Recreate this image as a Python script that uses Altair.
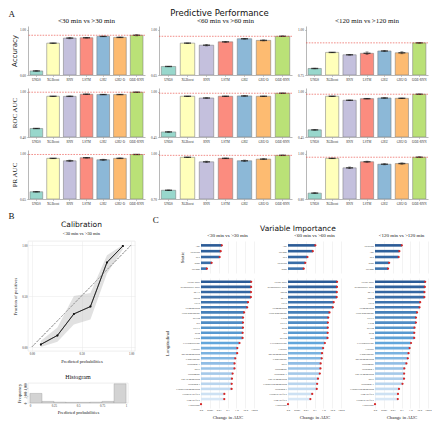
import altair as alt
import pandas as pd
import numpy as np

SERIF = "Liberation Serif"
SANS = "DejaVu Sans"

# ---------------- Panel A data ----------------
models = ["UNOS", "XGBoost", "RNN", "LSTM", "GRU", "GRU-D", "ODE-RNN"]
model_colors = ["#8dd3c7", "#ffffb3", "#bebada", "#fb8072", "#80b1d3", "#fdb462", "#b3de69"]
windows = ["<30 min vs >30 min", "<60 min vs >60 min", "<120 min vs >120 min"]
metrics = ["Accuracy", "ROC AUC", "PR AUC"]

acc_30 = [0.636, 0.882, 0.927, 0.930, 0.942, 0.933, 0.952]
acc_60 = [0.716, 0.897, 0.881, 0.907, 0.931, 0.918, 0.950]
acc_120 = [0.786, 0.875, 0.862, 0.870, 0.883, 0.873, 0.928]
roc_30 = [0.513, 0.941, 0.940, 0.968, 0.964, 0.964, 0.995]
roc_60 = [0.512, 0.946, 0.925, 0.946, 0.950, 0.946, 0.983]
roc_120 = [0.537, 0.946, 0.897, 0.917, 0.925, 0.921, 0.971]
pr_30 = [0.706, 0.965, 0.946, 0.970, 0.954, 0.965, 0.995]
pr_60 = [0.758, 0.977, 0.947, 0.970, 0.954, 0.965, 0.990]
pr_120 = [0.826, 0.980, 0.938, 0.965, 0.954, 0.957, 0.985]

acc_30_sd = [0.002, 0.001, 0.007, 0.003, 0.002, 0.003, 0.006]
acc_60_sd = [0.002, 0.001, 0.006, 0.004, 0.003, 0.004, 0.003]
acc_120_sd = [0.002, 0.001, 0.002, 0.008, 0.004, 0.006, 0.002]
roc_30_sd = [0.003, 0.001, 0.005, 0.003, 0.003, 0.003, 0.002]
roc_60_sd = [0.004, 0.001, 0.003, 0.002, 0.003, 0.002, 0.002]
roc_120_sd = [0.004, 0.001, 0.003, 0.003, 0.003, 0.003, 0.003]
pr_30_sd = [0.002, 0.001, 0.006, 0.003, 0.005, 0.003, 0.002]
pr_60_sd = [0.002, 0.001, 0.005, 0.002, 0.005, 0.003, 0.002]
pr_120_sd = [0.002, 0.001, 0.004, 0.003, 0.003, 0.003, 0.002]

acc_lows = [0.60, 0.65, 0.75]
roc_lows = [0.40, 0.45, 0.45]
pr_lows = [0.65, 0.70, 0.80]

# ---------------- Panel B data ----------------
cal_pred = [0.09, 0.257, 0.423, 0.59, 0.757, 0.917]
cal_frac = [0.025, 0.113, 0.324, 0.396, 0.83, 0.99]
cal_lo = [0.0, 0.05, 0.22, 0.27, 0.72, 0.96]
cal_hi = [0.06, 0.19, 0.50, 0.53, 0.90, 1.0]

hist_start = [0.0, 0.125, 0.25, 0.375, 0.5, 0.625, 0.75, 0.875]
hist_end = [0.125, 0.25, 0.375, 0.5, 0.625, 0.75, 0.875, 1.0]
hist_count = [2300, 380, 200, 160, 160, 200, 380, 4600]

# ---------------- Panel C data ----------------
c30_static = ["Age", "Dialysis", "Sex", "BMI", "Weight"]
c30_static_val = [0.023, 0.017, 0.013, 0.0016, 0.00047]
c30_long = ["Heart Rate", "Respiratory Rate", "MAP", "SpO2", "GCS", "Hemoglobin",
            "Norepinephrine", "pCO2", "pH", "PEEP", "pO2", "FiO2", "Levothyroxine",
            "Lactate", "Methemoglobin", "Epinephrine", "Troponin T", "BNP", "Dopamine",
            "O2 Hemoglobin", "Troponin I", "Carboxyhemoglobin", "Corneal Reflex",
            "Gag Reflex", "Lidocaine"]
c30_long_val = [48, 47, 46, 45, 21, 17, 7.6, 5.8, 5.7, 5.6, 5.2, 5.1, 2.3, 1.3, 1.25,
                0.76, 0.63, 0.62, 0.38, 0.32, 0.30, 0.29, 0.044, 0.043, 0.0001]

c60_static = ["Age", "Weight", "Sex", "Dialysis", "BMI"]
c60_static_val = [0.125, 0.064, 0.016, 0.009, 0.006]
c60_long = ["Heart Rate", "Respiratory Rate", "SpO2", "MAP", "GCS", "Hemoglobin",
            "Norepinephrine", "FiO2", "PEEP", "pO2", "pH", "pCO2", "Levothyroxine",
            "Lactate", "Methemoglobin", "Epinephrine", "BNP", "Dopamine", "Troponin T",
            "O2 Hemoglobin", "Carboxyhemoglobin", "Troponin I", "Corneal Reflex",
            "Gag Reflex", "Lidocaine"]
c60_long_val = [36, 35, 34, 33, 15, 12, 5.0, 3.6, 3.3, 3.2, 3.15, 3.0, 1.5, 0.95, 0.72,
                0.66, 0.5, 0.47, 0.4, 0.25, 0.2, 0.18, 0.055, 0.034, 0.0001]

c120_static = ["Dialysis", "Age", "Sex", "BMI", "Weight"]
c120_static_val = [0.11, 0.057, 0.048, 0.004, 0.003]
c120_long = ["Heart Rate", "Respiratory Rate", "MAP", "SpO2", "GCS", "Hemoglobin",
             "Norepinephrine", "PEEP", "FiO2", "pCO2", "pO2", "pH", "Levothyroxine",
             "Lactate", "Epinephrine", "Methemoglobin", "Dopamine", "Troponin I",
             "O2 Hemoglobin", "BNP", "Troponin T", "Carboxyhemoglobin", "Gag Reflex",
             "Corneal Reflex", "Lidocaine"]
c120_long_val = [48, 44, 40, 39, 13, 11, 5.8, 4.4, 4.3, 3.0, 2.8, 2.75, 1.2, 0.83, 0.63,
                 0.52, 0.36, 0.21, 0.20, 0.195, 0.13, 0.052, 0.040, 0.038, 0.0001]


# ---------------- helpers ----------------
def perf_panel(vals, sds, lo, width, ytitle=None, ctitle=None):
    df = pd.DataFrame({"model": models, "value": vals, "sd": sds})
    top = 1 + (1 - lo) * 0.085
    ticks = [float(t) for t in np.linspace(lo, 1.0, 5)]
    base = alt.Chart(df).transform_calculate(
        lo_e="datum.value - datum.sd", hi_e="datum.value + datum.sd")
    x = alt.X("model:N", sort=models,
              scale=alt.Scale(paddingInner=0.24, paddingOuter=0.12),
              axis=alt.Axis(title=None, labelAngle=0, labelFont=SERIF, labelFontSize=3.2,
                            labelPadding=1, tickSize=1.5, tickWidth=0.4, tickColor="#777",
                            domainColor="#888", domainWidth=0.6, labelColor="#333"))
    yscale = alt.Scale(domain=[lo, top], zero=False, nice=False)
    yaxis = alt.Axis(values=ticks, format=".2f", title=ytitle,
                     titleFont=SERIF if ytitle != "Accuracy" else SANS,
                     titleFontSize=7, titleFontWeight="normal", titlePadding=2, titleColor="#222",
                     labelFont=SERIF, labelFontSize=3.4, labelPadding=1, labelColor="#333",
                     tickSize=1.5, tickWidth=0.4, tickColor="#777", domainColor="#888",
                     domainWidth=0.6, grid=False)
    bars = base.mark_bar(stroke="#666", strokeWidth=0.5, clip=True, opacity=0.9).encode(
        x=x,
        y=alt.Y("value:Q", scale=yscale, axis=yaxis),
        y2=alt.datum(lo),
        color=alt.Color("model:N", scale=alt.Scale(domain=models, range=model_colors), legend=None))
    best_df = pd.DataFrame({"best": [max(vals)]})
    rule = alt.Chart(best_df).mark_rule(color="#e8433a", strokeDash=[1.6, 1.2],
                                        strokeWidth=0.6).encode(y=alt.Y("best:Q"))
    err = base.mark_rule(color="#222", strokeWidth=0.5).encode(
        x=x, y=alt.Y("lo_e:Q"), y2="hi_e:Q")
    cap = base.mark_tick(color="#222", size=3, thickness=0.5).encode(
        x=x, y=alt.Y("hi_e:Q"))
    cap2 = base.mark_tick(color="#222", size=3, thickness=0.5).encode(
        x=x, y=alt.Y("lo_e:Q"))
    dots = base.mark_tick(color="#111", size=7, thickness=1.4).encode(
        x=x, y=alt.Y("value:Q"))
    props = dict(width=width, height=49)
    if ctitle:
        props["title"] = alt.TitleParams(ctitle, font=SERIF, fontSize=7, fontWeight="normal",
                                         offset=2, color="#111")
    return alt.layer(bars, err, cap, cap2, dots, rule).properties(**props)


TICKS_LOG = [0.0001, 0.001, 0.01, 0.1, 1, 10, 100]
LABEL_EXPR = ("datum.value < 0.0005 ? '0.0' : datum.value < 0.005 ? '0.001' : "
              "datum.value < 0.05 ? '0.01' : format(datum.value, '.1f')")


def vi_chart(names, vals, part, height, ctitle=None, show_ytitle=False, show_x=False, width=53):
    df = pd.DataFrame({"var": names, "val": vals})
    n = len(names)
    base = alt.Chart(df).transform_window(
        rk="row_number()", sort=[alt.SortField("val", order="descending")])
    xscale = alt.Scale(type="log", domain=[0.0001, 100])
    if show_x:
        xaxis = alt.Axis(values=TICKS_LOG, labelExpr=LABEL_EXPR, title="Change in AUC",
                         titleFont=SERIF, titleFontSize=4.8, titleFontWeight="normal",
                         titlePadding=3, labelFont=SERIF, labelFontSize=2.8, labelPadding=1,
                         labelColor="#333", labelFlush=False, ticks=False, domain=False,
                         grid=True, gridColor="#e6e6e6", gridWidth=0.5, titleColor="#222")
    else:
        xaxis = alt.Axis(values=TICKS_LOG, labels=False, ticks=False, domain=False, title=None,
                         grid=True, gridColor="#e6e6e6", gridWidth=0.5)
    y = alt.Y("var:N", sort=names, scale=alt.Scale(paddingInner=0.3, paddingOuter=0.4),
              axis=alt.Axis(title=part if show_ytitle else None, titleFont=SERIF,
                            titleFontSize=5, titleFontWeight="normal", titlePadding=6,
                            titleColor="#222",
                            labelFont=SERIF, labelFontSize=2.9, labelPadding=1.5,
                            labelColor="#333", ticks=False, domain=False, grid=False))
    bars = base.mark_bar(size=2.6).encode(
        x=alt.X("val:Q", scale=xscale, axis=xaxis),
        x2=alt.datum(0.0001),
        y=y,
        color=alt.Color("rk:Q", scale=alt.Scale(domain=[1, (n + 1) / 2, n],
                                                range=["#2b5b96", "#62a6db", "#e1edf8"]),
                        legend=None))
    dots = base.mark_circle(color="#d62626", size=5, opacity=1).encode(
        x=alt.X("val:Q"), y=alt.Y("var:N", sort=names))
    props = dict(width=width, height=height)
    if ctitle:
        props["title"] = alt.TitleParams(ctitle, font=SERIF, fontSize=5, fontWeight="normal",
                                         offset=3, color="#111")
    return alt.layer(bars, dots).properties(**props)


# ---------------- Panel A ----------------
vals_grid = [[acc_30, acc_60, acc_120], [roc_30, roc_60, roc_120], [pr_30, pr_60, pr_120]]
sd_grid = [[acc_30_sd, acc_60_sd, acc_120_sd], [roc_30_sd, roc_60_sd, roc_120_sd],
           [pr_30_sd, pr_60_sd, pr_120_sd]]
lows = [acc_lows, roc_lows, pr_lows]
col_widths = [117, 133, 122]

columns = []
for c in range(3):
    panels = []
    for r in range(3):
        panels.append(perf_panel(vals_grid[r][c], sd_grid[r][c], lows[r][c], col_widths[c],
                                 ytitle=metrics[r] if c == 0 else None,
                                 ctitle=windows[c] if r == 0 else None))
    columns.append(alt.vconcat(*panels, spacing=7))

top = alt.hconcat(*columns, spacing=4).properties(
    title=alt.TitleParams("Predictive Performance", font=SANS, fontSize=8.5,
                          fontWeight="normal", anchor="middle", offset=0, color="#111"))

# ---------------- Panel B ----------------
cal_df = pd.DataFrame({"p": cal_pred, "f": cal_frac, "lo": cal_lo, "hi": cal_hi})
ax_common = dict(labelFont=SERIF, labelFontSize=3, labelPadding=1, labelColor="#333",
                 titleFont=SERIF, titleFontSize=4.6, titleFontWeight="normal", titleColor="#222",
                 ticks=False, domain=False, grid=True, gridColor="#e8e8e8", gridWidth=0.5)
cx = alt.X("p:Q", scale=alt.Scale(domain=[-0.04, 1.04], nice=False),
           axis=alt.Axis(values=[0, 0.25, 0.5, 0.75, 1.0], format=".2f",
                         title="Predicted probabilities", titlePadding=3, **ax_common))
cy = alt.Y("f:Q", scale=alt.Scale(domain=[-0.04, 1.04], nice=False),
           axis=alt.Axis(values=[0, 0.25, 0.5, 0.75, 1.0], format=".2f",
                         title="Fraction of positives", titlePadding=4, **ax_common))
band = alt.Chart(cal_df).mark_area(color="#bdbdbd", opacity=0.45).encode(
    x=cx, y=alt.Y("lo:Q"), y2="hi:Q")
diag = alt.Chart(cal_df).mark_rule(
    color="#aaa", strokeDash=[2, 1.5], strokeWidth=0.5).encode(
    x=alt.datum(0), y=alt.datum(0), x2=alt.datum(1), y2=alt.datum(1))
line = alt.Chart(cal_df).mark_line(color="#111", strokeWidth=0.8,
                                   point=alt.OverlayMarkDef(color="#111", size=4, filled=True)).encode(
    x=cx, y=cy)
calib = alt.layer(line, band, diag, line).properties(
    width=107, height=110,
    view=alt.ViewBackground(stroke="#e0e0e0", strokeWidth=0.6),
    title=alt.TitleParams("Calibration", subtitle="<30 min vs >30 min", font=SANS,
                          fontSize=7.5, fontWeight="normal", subtitleFont=SERIF,
                          subtitleFontSize=4.6, subtitlePadding=3, offset=5, color="#111",
                          subtitleColor="#111"))

hist_df = pd.DataFrame({"s": hist_start, "e": hist_end, "n": hist_count})
hist = alt.Chart(hist_df).mark_bar(color="#d3d3d3", stroke="#999", strokeWidth=0.4).encode(
    x=alt.X("s:Q", scale=alt.Scale(domain=[-0.02, 1.02], nice=False),
            axis=alt.Axis(values=[0, 0.25, 0.5, 0.75, 1.0], labelExpr=
                          "datum.value == 0 ? '0' : datum.value == 1 ? '1' : format(datum.value, '.2~f')",
                          title="Predicted probabilities", titlePadding=2,
                          **{**ax_common, "grid": False})),
    x2="e:Q",
    y=alt.Y("n:Q", scale=alt.Scale(domain=[0, 4800], nice=False),
            axis=alt.Axis(values=[0, 2000, 4000], labelAngle=-90, title="Frequency",
                          titlePadding=3, **{**ax_common, "grid": False})),
    y2=alt.datum(0),
).properties(width=100, height=20,
             view=alt.ViewBackground(stroke="#e0e0e0", strokeWidth=0.6),
             title=alt.TitleParams("Histogram", font=SERIF, fontSize=6, fontWeight="normal",
                                   offset=3, color="#111"))

b_col = alt.vconcat(calib, hist, spacing=10).properties(
    title=alt.TitleParams("B", font=SERIF, fontSize=9, fontWeight="normal", anchor="start",
                          offset=0, color="#111", dx=-4))

# ---------------- Panel C ----------------
c_cols = []
c_data = [(c30_static, c30_static_val, c30_long, c30_long_val),
          (c60_static, c60_static_val, c60_long, c60_long_val),
          (c120_static, c120_static_val, c120_long, c120_long_val)]
for i, (sn, sv, ln, lv) in enumerate(c_data):
    st = vi_chart(sn, sv, "Static", 32, ctitle=windows[i], show_ytitle=(i == 0))
    lg = vi_chart(ln, lv, "Longitudinal", 130, show_ytitle=(i == 0), show_x=True)
    c_cols.append(alt.vconcat(st, lg, spacing=5))

c_inner = alt.hconcat(*c_cols, spacing=4).properties(
    title=alt.TitleParams("Variable Importance", font=SANS, fontSize=7.5, fontWeight="normal",
                          anchor="middle", offset=1, color="#111"))
c_block = alt.vconcat(c_inner).properties(
    title=alt.TitleParams("C", font=SERIF, fontSize=9, fontWeight="normal", anchor="start",
                          offset=0, color="#111", dx=-12))

bottom = alt.hconcat(b_col, c_block, spacing=16)

chart = alt.vconcat(top, bottom, spacing=6).properties(
    title=alt.TitleParams("A", font=SERIF, fontSize=9, fontWeight="normal", anchor="start",
                          offset=-10, color="#111")
).configure(padding=0, background="white").configure_view(stroke=None)

chart.save("out.html", embed_options={"renderer": "svg", "actions": False})
